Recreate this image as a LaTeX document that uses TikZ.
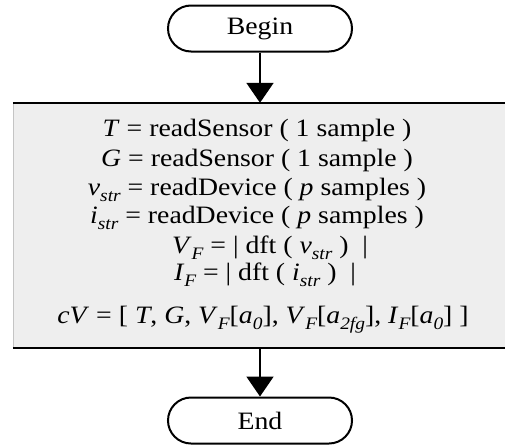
\documentclass[tikz,border=0pt]{standalone}
\usepackage{fontspec}
\setmainfont[FakeStretch=1.11]{Liberation Serif}
\usetikzlibrary{arrows.meta,shapes.misc}
\definecolor{panel}{HTML}{EEEEEE}
\definecolor{paneledge}{HTML}{C4C4C4}
% italic variable and its lowered italic subscript
\newcommand\vv[1]{\textit{#1}}
\newcommand\sbs[1]{\raisebox{-0.26em}{\fontsize{17.5}{17.5}\selectfont\itshape #1}}
\begin{document}
\begin{tikzpicture}[x=1pt,y=-1pt,
  terminal/.style={rounded rectangle, draw, line width=2pt, fill=white,
    minimum width=184pt, minimum height=46pt, inner sep=0pt,
    font=\fontsize{25}{25}\selectfont},
  flow/.style={line width=2pt, -{Triangle[length=20pt,width=27pt]}},
  stmt/.style={anchor=base, inner sep=0pt, font=\fontsize{25}{25}\selectfont},
  procbox/.style={fill=panel, inner sep=0pt, minimum width=492pt, minimum height=245pt}]
\useasboundingbox (0,0) rectangle (505,447);

% terminals
\node[terminal] (begin) at (260,28.5) {Begin};
\node[terminal] (end) at (260,420.5) {End};

% process block
\node[procbox] (proc) at (259,225.5) {};
\draw[paneledge, line width=1pt] ([xshift=0.5pt]proc.north west) -- ([xshift=0.5pt]proc.south west);
\draw[line width=2pt] (proc.north west) -- (proc.north east);
\draw[line width=2pt] (proc.south west) -- (proc.south east);

% statements
\node[stmt] (l1) at (257,136) {\vv{T} = readSensor ( 1 sample )};
\node[stmt] (l2) at (257,166) {\vv{G} = readSensor ( 1 sample )};
\node[stmt] (l3) at (257,195) {\vv{v}\sbs{str} = readDevice ( \vv{p} samples )};
\node[stmt] (l4) at (257,223) {\vv{i}\sbs{str} = readDevice ( \vv{p} samples )};
\node[stmt] (l5) at (270,253) {\vv{V}\sbs{F} = | dft ( \vv{v}\sbs{str} )\ \ |};
\node[stmt] (l6) at (265,280) {\vv{I}\sbs{F} = | dft ( \vv{i}\sbs{str} )\ \ |};
\node[stmt] (l7) at (263,323) {\vv{cV} = [ \vv{T}, \vv{G}, \vv{V}\sbs{F}[\vv{a}\sbs{0}], \vv{V}\sbs{F}[\vv{a}\sbs{2fg}], \vv{I}\sbs{F}[\vv{a}\sbs{0}] ]};

% connectors
\draw[flow] (begin.south) -- (begin.south |- proc.north);
\draw[flow] (proc.south -| end.north) -- (end.north);
\end{tikzpicture}
\end{document}
